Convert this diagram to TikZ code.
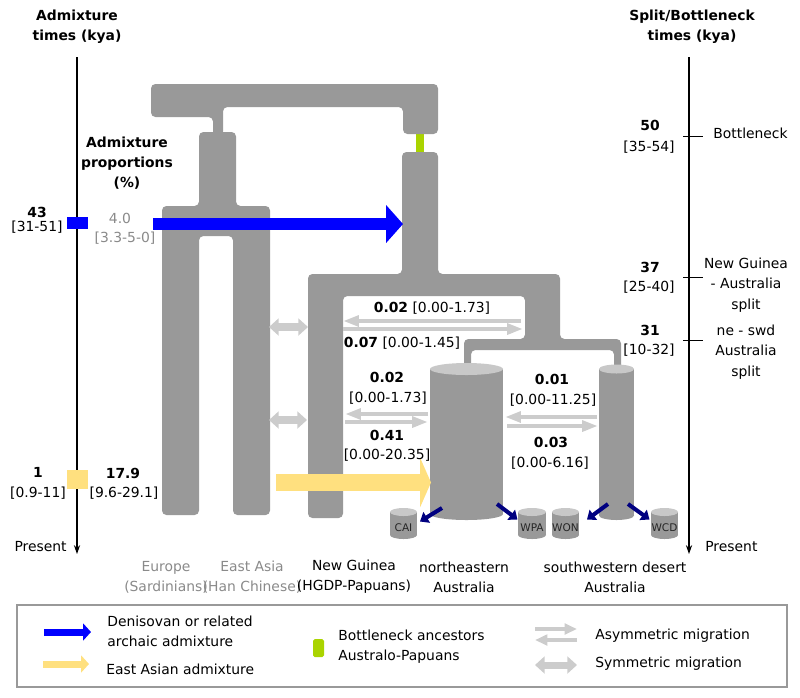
\documentclass[tikz,border=0pt]{standalone}
\usepackage{fontspec}
\setmainfont{DejaVu Sans}
\usepackage{xcolor}
\usepackage{tikz}
\usetikzlibrary{arrows.meta, positioning}
\definecolor{treegray}{RGB}{153,153,153}
\definecolor{capgray}{RGB}{200,200,200}
\definecolor{miggray}{RGB}{204,204,204}
\definecolor{faintgray}{RGB}{138,138,138}
\definecolor{denisblue}{RGB}{0,0,255}
\definecolor{easyellow}{RGB}{255,224,127}
\definecolor{bneckgreen}{RGB}{170,212,0}
\definecolor{sampnavy}{RGB}{0,0,128}

% cylinder: name, left x, top y, right x, bottom y, cap radius
\newcommand{\popcyl}[6]{%
  \fill[treegray] (#2,#3) rectangle (#4,#5);
  \fill[treegray] ({(#2+#4)/2},#5) ellipse [x radius={(#4-#2)/2}, y radius=#6];
  \fill[capgray] ({(#2+#4)/2},#3) ellipse [x radius={(#4-#2)/2}, y radius=#6];
  \coordinate (#1) at ({(#2+#4)/2},{(#3+#5)/2+#6});
}

\begin{document}
\begin{tikzpicture}[
  x=0.02cm, y=-0.02cm,
  branch/.style={fill=treegray, rounded corners=2.5pt},
  txt/.style={inner sep=0pt, font=\fontsize{7.9}{11.5}\selectfont, align=center},
  num/.style={txt, font=\fontsize{7.9}{11.5}\selectfont\bfseries},
  dim/.style={txt, text=faintgray},
  samptxt/.style={inner sep=0pt, font=\fontsize{6}{7}\selectfont, text=black!85},
  timeaxis/.style={black, line width=0.7pt, -{Stealth[length=5pt, width=3.5pt]}},
  asym/.style={miggray, line width=2.3pt, -{Triangle[length=9pt, width=6pt]}},
  sym/.style={miggray, line width=4pt,
              {Triangle[length=5.5pt, width=9.6pt]}-{Triangle[length=5.5pt, width=9.6pt]}},
  denis/.style={denisblue, line width=6.8pt, -{Triangle[length=9.6pt, width=21pt]}},
  eastas/.style={easyellow, line width=9.6pt, -{Triangle[length=6.2pt, width=28pt]}},
  samp/.style={sampnavy, line width=2.3pt, -{Triangle[length=4.5pt, width=7pt]}}
]
  \useasboundingbox (0,0) rectangle (800,697);

  % Time axes
  \coordinate (ltop) at (77,57);
  \coordinate (lbot) at (77,554);
  \coordinate (rtop) at (689,57);
  \coordinate (rbot) at (689,554);
  \draw[timeaxis] (ltop) -- (lbot);
  \draw[timeaxis] (rtop) -- (rbot);
  \foreach \ty in {136,277,340}
    \draw[black, line width=0.5pt] (683,\ty) -- (703,\ty);
  \fill[denisblue] (67,217) rectangle (88,229);
  \fill[easyellow] (67,470) rectangle (88,489);

  \node[num] (ttlL) at (77,27) {Admixture\\times (kya)};
  \node[num] (ttlR) at (692,27) {Split/Bottleneck\\times (kya)};
  \node[txt, anchor=east] (presL) at (67,547) {Present};
  \node[txt, anchor=west] (presR) at (705,547) {Present};

  % Tree
  \fill[bneckgreen] (416,130) rectangle (424,156);
  \fill[branch] (151,84) -- (438,84) -- (438,134) -- (403,134) -- (403,107)
    -- (223,107) -- (223,136) -- (213,136) -- (213,117) -- (151,117) -- cycle;
  \fill[branch] (199,132) -- (236,132) -- (236,206) -- (270,206) -- (270,515)
    -- (233,515) -- (233,236) -- (199,236) -- (199,515) -- (162,515)
    -- (162,206) -- (199,206) -- cycle;
  \fill[branch] (402,152) -- (438,152) -- (438,274) -- (560,274) -- (560,339)
    -- (621,339) -- (621,374) -- (614,374) -- (614,350) -- (471,350)
    -- (471,370) -- (464,370) -- (464,339) -- (525,339) -- (525,296)
    -- (343,296) -- (343,518) -- (308,518) -- (308,274) -- (402,274) -- cycle;

  % Populations
  \popcyl{nea}{430}{369}{503}{514}{6}
  \popcyl{swda}{599}{369}{634}{515.5}{4.5}
  \popcyl{cai}{390}{512}{417}{535}{4}
  \popcyl{wpa}{518}{512}{546}{535}{4}
  \popcyl{won}{552}{512}{579}{535}{4}
  \popcyl{wcd}{651}{512}{678}{535}{4}
  \node[samptxt] (caiL) at (cai) {CAI};
  \node[samptxt] (wpaL) at (wpa) {WPA};
  \node[samptxt] (wonL) at (won) {WON};
  \node[samptxt] (wcdL) at (wcd) {WCD};

  % Migration
  \coordinate (ngT1) at (343,321); \coordinate (apT1) at (521,321);
  \coordinate (ngT2) at (343,329); \coordinate (apT2) at (523,329);
  \draw[asym] (apT1) -- (ngT1);
  \draw[asym] (ngT2) -- (apT2);
  \coordinate (ngM1) at (345,414); \coordinate (neM1) at (428,414);
  \coordinate (ngM2) at (345,422); \coordinate (neM2) at (428,422);
  \draw[asym] (neM1) -- (ngM1);
  \draw[asym] (ngM2) -- (neM2);
  \coordinate (neS1) at (505,417); \coordinate (swS1) at (597,417);
  \coordinate (neS2) at (507,426); \coordinate (swS2) at (598,426);
  \draw[asym] (swS1) -- (neS1);
  \draw[asym] (neS2) -- (swS2);
  \coordinate (easU) at (269,327); \coordinate (ngU) at (308,327);
  \coordinate (easL) at (269,420); \coordinate (ngL) at (307,420);
  \draw[sym] (easU) -- (ngU);
  \draw[sym] (easL) -- (ngL);

  % Admixture
  \coordinate (denisS) at (153,224); \coordinate (denisE) at (403,224);
  \draw[denis] (denisS) -- (denisE);
  \coordinate (easS) at (276,482.5); \coordinate (easE) at (431,482.5);
  \draw[eastas] (easS) -- (easE);

  % Sampling
  \coordinate (neA) at (442,508); \coordinate (caiT) at (420,521.5);
  \coordinate (neB) at (497,504); \coordinate (wpaT) at (517.5,519.5);
  \coordinate (swA) at (608,504); \coordinate (wonT) at (587,519.5);
  \coordinate (swB) at (628,504); \coordinate (wcdT) at (649.5,519.5);
  \draw[samp] (neA) -- (caiT);
  \draw[samp] (neB) -- (wpaT);
  \draw[samp] (swA) -- (wonT);
  \draw[samp] (swB) -- (wcdT);

  % Left labels
  \node[num] (propT) at (127,163) {Admixture\\proportions\\(\%)};
  \node[num] (t43) at (37,212) {43};
  \node[txt] (t43r) at (37,227) {[31-51]};
  \node[dim] (p40) at (120,218) {4.0};
  \node[dim] (p40r) at (125,238) {[3.3-5-0]};
  \node[num] (t1) at (38,472) {1};
  \node[txt] (t1r) at (38,493) {[0.9-11]};
  \node[num] (p179) at (123,473) {17.9};
  \node[txt] (p179r) at (124,493) {[9.6-29.1]};

  % Right labels
  \node[num] (t50) at (650,125) {50};
  \node[txt] (t50r) at (649,147) {[35-54]};
  \node[txt, anchor=west] (bneck) at (713,133) {Bottleneck};
  \node[num] (t37) at (650,267) {37};
  \node[txt] (t37r) at (649,287) {[25-40]};
  \node[txt] (split1) at (746,285) {New Guinea\\- Australia\\split};
  \node[num] (t31) at (650,330) {31};
  \node[txt] (t31r) at (649,350) {[10-32]};
  \node[txt] (split2) at (746,352) {ne - swd\\Australia\\split};

  % Migration rates
  \node[txt] (m1) at (432,308) {\textbf{0.02} [0.00-1.73]};
  \node[txt] (m2) at (402,343) {\textbf{0.07} [0.00-1.45]};
  \node[num] (m3) at (387,377) {0.02};
  \node[txt] (m3r) at (388,398) {[0.00-1.73]};
  \node[num] (m4) at (387,435) {0.41};
  \node[txt] (m4r) at (387,455) {[0.00-20.35]};
  \node[num] (m5) at (552,379) {0.01};
  \node[txt] (m5r) at (553,400) {[0.00-11.25]};
  \node[num] (m6) at (551,442) {0.03};
  \node[txt] (m6r) at (550,463) {[0.00-6.16]};

  % Population names
  \node[dim] (eurN) at (166,577) {Europe\\(Sardinians)};
  \node[dim] (easN) at (252,577) {East Asia\\(Han Chinese)};
  \node[txt] (ngN) at (354,577) {New Guinea\\(HGDP-Papuans)};
  \node[txt] (neN) at (464,577) {northeastern\\Australia};
  \node[txt] (swN) at (615,577) {southwestern desert\\Australia};

  % Legend
  \draw[treegray, line width=0.6pt] (17,605) rectangle (787,687);
  \coordinate (lgB1) at (44,632); \coordinate (lgB2) at (91,632);
  \coordinate (lgY1) at (43,664); \coordinate (lgY2) at (89,664);
  \draw[denisblue, line width=4pt, -{Triangle[length=4.5pt, width=9.6pt]}] (lgB1) -- (lgB2);
  \draw[easyellow, line width=4pt, -{Triangle[length=4.5pt, width=9.6pt]}] (lgY1) -- (lgY2);
  \node[txt, anchor=west, align=left] (lgDen) at (107,631.5) {Denisovan or related\\archaic admixture};
  \node[txt, anchor=west] (lgEas) at (106,669) {East Asian admixture};
  \fill[bneckgreen, rounded corners=1pt] (313,639) rectangle (324,657);
  \node[txt, anchor=west, align=left] (lgBn) at (338,647) {Bottleneck ancestors\\Australo-Papuans};
  \coordinate (lgA1) at (535,629); \coordinate (lgA2) at (577,629);
  \coordinate (lgA3) at (577,640); \coordinate (lgA4) at (535,640);
  \draw[asym, -{Triangle[length=7pt, width=6pt]}] (lgA1) -- (lgA2);
  \draw[asym, -{Triangle[length=7pt, width=6pt]}] (lgA3) -- (lgA4);
  \coordinate (lgS1) at (535,665); \coordinate (lgS2) at (577,665);
  \draw[sym] (lgS1) -- (lgS2);
  \node[txt, anchor=west] (lgAsym) at (595,636) {Asymmetric migration};
  \node[txt, anchor=west] (lgSym) at (595,664) {Symmetric migration};
\end{tikzpicture}
\end{document}
